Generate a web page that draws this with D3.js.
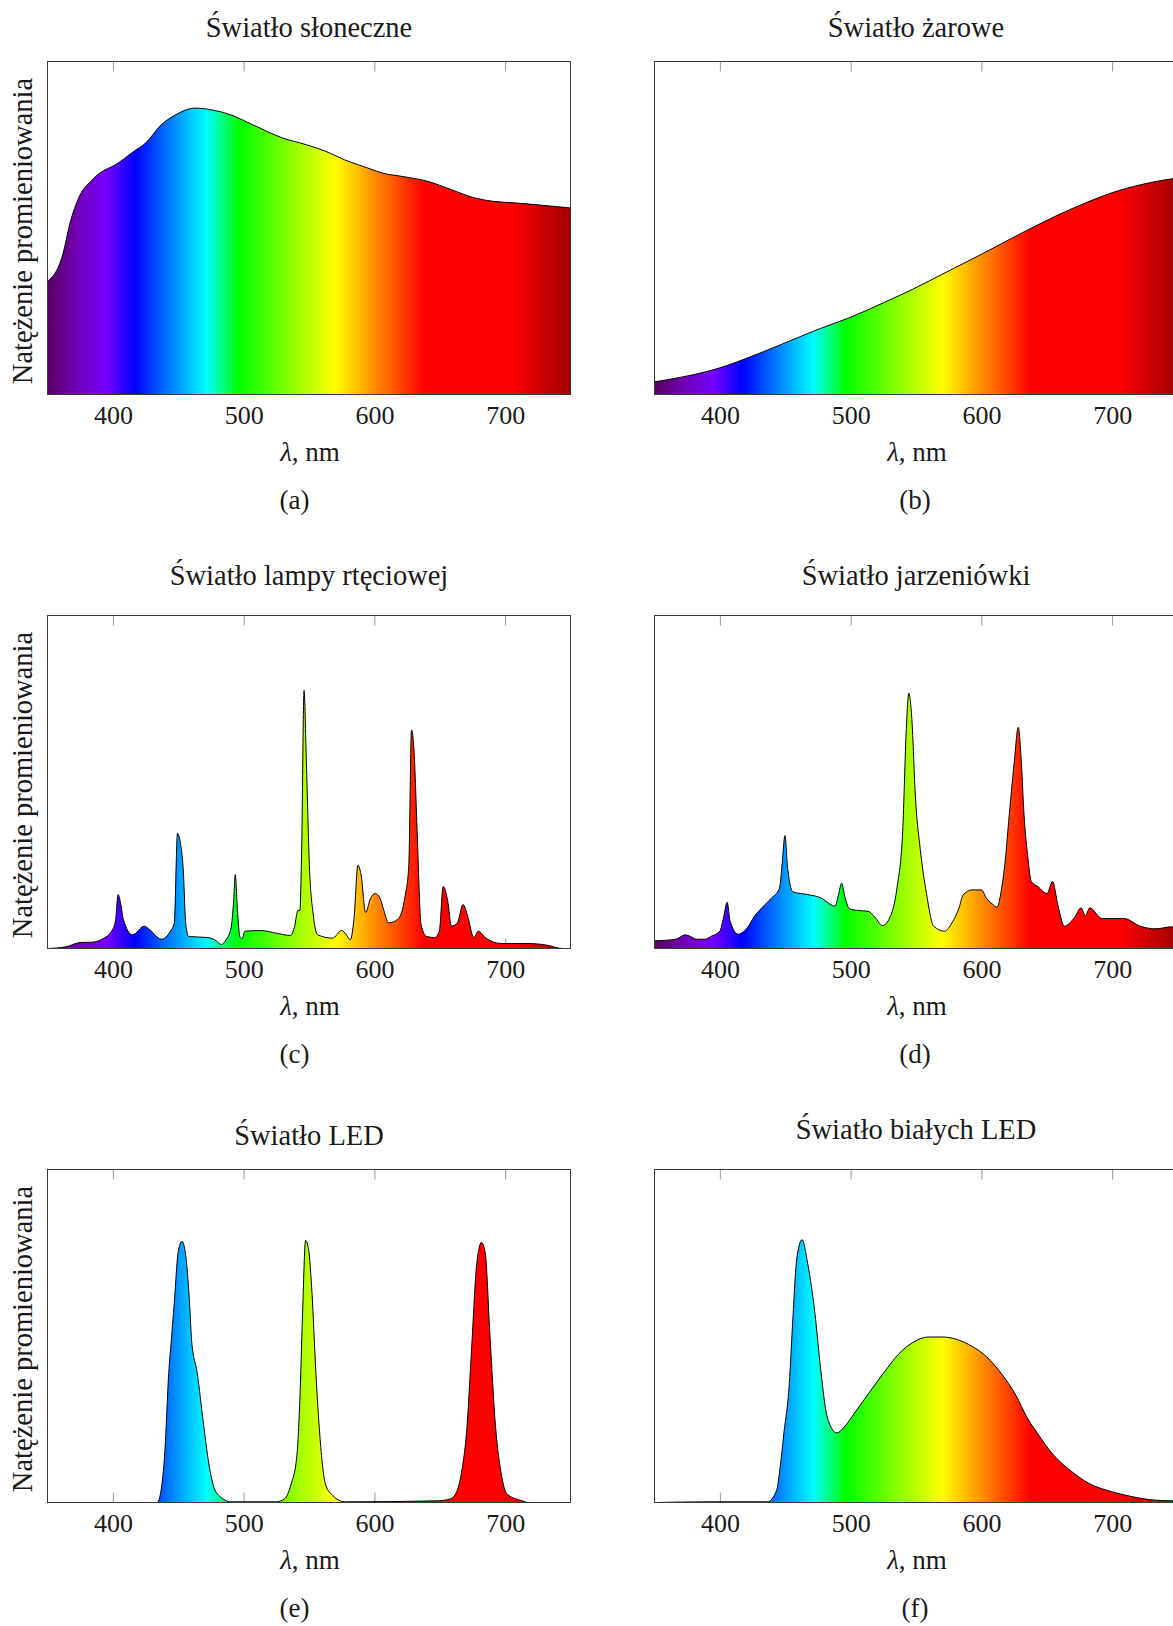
<!DOCTYPE html>
<html>
<head>
<meta charset="utf-8">
<script src="https://cdn.jsdelivr.net/npm/d3@7"></script>
<style>
  body { margin: 0; background: #fff; }
  svg { display: block; }
  text { font-family: "Liberation Serif", "DejaVu Serif", serif; fill: #1a1a1a; }
</style>
</head>
<body>
<script>
// ---------------- DATA ----------------
const xTicks = [400, 500, 600, 700];
const wavelengthDomain = [350, 750];
const titles = ["Światło słoneczne", "Światło żarowe", "Światło lampy rtęciowej",
                "Światło jarzeniówki", "Światło LED", "Światło białych LED"];
const subLabels = ["(a)", "(b)", "(c)", "(d)", "(e)", "(f)"];
const yLabel = "Natężenie promieniowania";
const xLabelSymbol = "λ";
const xLabelUnit = ", nm";

// [wavelength nm, relative intensity]
const sunlight = [[350,0.339],[361,0.411],[368,0.526],[375,0.600],[383,0.640],[390,0.665],[402,0.690],
  [416,0.730],[425,0.755],[437,0.810],[448,0.840],[463,0.860],[475,0.855],[490,0.840],[507,0.810],
  [530,0.770],[548,0.750],[563,0.730],[577,0.705],[595,0.680],[606,0.665],[621,0.655],[641,0.640],
  [659,0.615],[677,0.590],[691,0.580],[709,0.575],[729,0.568],[750,0.560]];

const incandescent = [[350,0.038],[378,0.058],[400,0.080],[420,0.108],[448,0.152],[476,0.197],
  [500,0.232],[526,0.277],[548,0.317],[573,0.367],[600,0.421],[629,0.481],[657,0.536],[680,0.576],
  [700,0.606],[722,0.630],[738,0.643],[750,0.650]];

const mercury = [[350,0],[364,0.005],[375,0.018],[384,0.019],[393,0.031],[399,0.052],[402,0.083],
  [404,0.162],[406,0.134],[408,0.088],[415,0.041],[424,0.067],[428,0.057],[437,0.028],[444,0.052],
  [447,0.077],[449.4,0.346],[451.5,0.320],[453.8,0.238],[455.8,0.072],[458,0.036],[472,0.033],
  [478,0.026],[483,0.012],[486.5,0.026],[490.4,0.062],[492.4,0.145],[493.6,0.222],[495.3,0.114],
  [497.1,0.036],[498.8,0.029],[501,0.052],[513,0.054],[525,0.046],[536,0.039],[539,0.067],
  [541.5,0.114],[543,0.114],[544.4,0.300],[546.2,0.775],[548,0.558],[550.3,0.248],[553.2,0.103],
  [556.7,0.041],[568,0.031],[575,0.054],[578.6,0.041],[581.6,0.026],[584.5,0.093],[587.4,0.250],
  [589.8,0.222],[593.3,0.108],[597,0.150],[600.6,0.165],[604.4,0.150],[607.3,0.114],[610.8,0.077],
  [618,0.088],[623.4,0.155],[626.3,0.248],[628.4,0.656],[630.4,0.589],[632.7,0.351],[635.7,0.072],
  [640,0.036],[646,0.033],[649.7,0.052],[652.6,0.186],[656,0.145],[659,0.067],[663.5,0.077],
  [667.8,0.132],[671.3,0.098],[676,0.033],[679.5,0.052],[685.4,0.031],[697,0.015],[717.5,0.015],
  [732,0.010],[744,0],[750,0]];

const fluorescent = [[350,0.023],[366.5,0.028],[373.4,0.041],[377.6,0.036],[381.8,0.028],[388.8,0.028],
  [393,0.036],[400,0.052],[402.8,0.093],[405.6,0.139],[407.8,0.083],[414,0.043],[421,0.062],
  [426.6,0.098],[432.1,0.122],[439.1,0.150],[445.6,0.181],[447.5,0.248],[449.8,0.339],[451.7,0.248],
  [455.9,0.170],[467.1,0.162],[478.3,0.150],[483.9,0.134],[488.1,0.127],[490.9,0.165],[493.1,0.196],
  [495.6,0.155],[499.2,0.119],[506.2,0.114],[513.2,0.112],[518.8,0.093],[524.4,0.069],[530,0.093],
  [535.6,0.186],[539.8,0.351],[542.6,0.661],[544.5,0.767],[546.8,0.690],[549.6,0.452],[553.2,0.300],
  [558,0.165],[563.5,0.067],[571.9,0.052],[577.5,0.077],[583.1,0.124],[585.9,0.160],[592.9,0.176],
  [600,0.176],[604.1,0.150],[608.3,0.134],[612,0.124],[615.3,0.176],[618.1,0.258],[620.9,0.382],
  [625.1,0.558],[628.2,0.664],[630.6,0.558],[632.6,0.403],[635.4,0.279],[638.2,0.201],[643.2,0.186],
  [650.2,0.165],[654.4,0.201],[658.6,0.129],[663.4,0.067],[671.2,0.093],[676.2,0.122],[679.6,0.098],
  [682.9,0.122],[692.2,0.090],[709,0.090],[721.6,0.067],[732.8,0.059],[746,0.065],[750,0.065]];

const led = [[350,0],[433.9,0],[436.8,0.035],[439.8,0.156],[442.7,0.387],[444.7,0.487],[447.1,0.608],
  [450,0.754],[452.9,0.784],[455.8,0.739],[458.8,0.588],[460.2,0.487],[464.6,0.387],[469,0.246],
  [473.4,0.116],[477.8,0.040],[483.6,0.013],[489.5,0.002],[524.6,0.002],[531,0.010],[536.3,0.055],
  [540.6,0.136],[543,0.307],[545,0.558],[547.4,0.787],[549.7,0.759],[552.3,0.628],[555.3,0.387],
  [558.2,0.206],[562.6,0.055],[568.4,0.020],[577.2,0.002],[647.4,0.005],[657.6,0.010],[662,0.025],
  [666.4,0.085],[670.8,0.226],[674.3,0.457],[678.1,0.709],[681.9,0.781],[684.8,0.749],[688.3,0.508],
  [692.7,0.226],[697.1,0.085],[701.5,0.025],[713.2,0.005],[717.5,0],[750,0]];

const whiteLed = [[350,0],[391.6,0.002],[436.3,0.002],[443.3,0.035],[446.1,0.106],[448.9,0.206],
  [453.1,0.357],[455.9,0.558],[458.7,0.729],[462.9,0.789],[467.1,0.719],[472.7,0.568],[476.9,0.407],
  [481.1,0.276],[484.4,0.231],[489.5,0.209],[495,0.226],[503.4,0.271],[514.6,0.332],[525.8,0.392],
  [537,0.447],[548.2,0.482],[559.3,0.497],[570.5,0.497],[581.7,0.489],[592.9,0.469],[604.1,0.437],
  [615.3,0.387],[626.4,0.322],[634.8,0.256],[643.2,0.206],[654.4,0.146],[668.4,0.095],[682.4,0.057],
  [699.2,0.033],[716,0.017],[732.8,0.007],[746,0.005],[750,0.004]];

const seriesList = [sunlight, incandescent, mercury, fluorescent, led, whiteLed];

// spectrum colormap (wavelength -> colour)
const spectrumStops = [[350,"#58005f"],[375,"#7300bd"],[395,"#7600ff"],[417,"#0000ff"],
  [472,"#00ffff"],[496,"#00ff00"],[570,"#ffff00"],[638,"#ff0000"],[705,"#ff0000"],[750,"#a00000"]];

// ---------------- LAYOUT ----------------
const W = 1173, H = 1626;
const PW = 523, PH = 333;
const colX = [47.5, 654.5];
const rowY = [61.5, 615.5, 1169.5];
const subX = [294.5, 915];
const FS_TICK = 26, FS_TITLE = 28.5, FS_YLAB = 28.5, FS_XLAB = 27, FS_SUB = 27;

const svg = d3.select("body").append("svg").attr("width", W).attr("height", H);
const defs = svg.append("defs");

const x = d3.scaleLinear().domain(wavelengthDomain).range([0, PW]);
const y = d3.scaleLinear().domain([0, 1]).range([PH, 0]);

const grad = defs.append("linearGradient").attr("id", "spectrum")
  .attr("gradientUnits", "userSpaceOnUse")
  .attr("x1", x(wavelengthDomain[0])).attr("x2", x(wavelengthDomain[1]))
  .attr("y1", 0).attr("y2", 0);
spectrumStops.forEach(([wl, c]) => grad.append("stop")
  .attr("offset", x(wl) / PW).attr("stop-color", c));

defs.append("clipPath").attr("id", "plotClip")
  .append("rect").attr("x", 0).attr("y", 0).attr("width", PW).attr("height", PH);

const area = d3.area().x(d => x(d[0])).y0(y(0)).y1(d => y(d[1])).curve(d3.curveMonotoneX);
const line = d3.line().x(d => x(d[0])).y(d => y(d[1])).curve(d3.curveMonotoneX);

seriesList.forEach((data, i) => {
  const col = i % 2, row = Math.floor(i / 2);
  const g = svg.append("g").attr("transform", `translate(${colX[col]},${rowY[row]})`);

  // ticks (top and bottom, inward)
  const topAxis = d3.axisTop(x).tickValues(xTicks).tickSize(-10).tickFormat("");
  const botAxis = d3.axisBottom(x).tickValues(xTicks).tickSize(-10).tickFormat("");
  [g.append("g").call(topAxis), g.append("g").attr("transform", `translate(0,${PH})`).call(botAxis)]
    .forEach(a => {
      a.select(".domain").remove();
      a.selectAll("line").attr("stroke", "#999").attr("stroke-width", 1);
    });

  const pg = g.append("g").attr("clip-path", "url(#plotClip)");
  pg.append("path").datum(data).attr("d", area).attr("fill", "url(#spectrum)");
  pg.append("path").datum(data).attr("d", line).attr("fill", "none")
    .attr("stroke", "#000").attr("stroke-width", 1);

  // frame
  g.append("rect").attr("x", 0).attr("y", 0).attr("width", PW).attr("height", PH)
    .attr("fill", "none").attr("stroke", "#3a3a3a").attr("stroke-width", 1);

  // tick labels
  const lab = d3.axisBottom(x).tickValues(xTicks).tickSize(0).tickPadding(0);
  const la = g.append("g").attr("transform", `translate(0,${PH})`).call(lab)
    .attr("font-family", null).attr("font-size", null);
  la.select(".domain").remove();
  la.selectAll("text").attr("font-size", FS_TICK).attr("dy", null).attr("y", 29)
    .attr("fill", "#1a1a1a");

  // x label
  const xl = g.append("text").attr("x", PW / 2 + 1).attr("y", PH + 66.5)
    .attr("text-anchor", "middle").attr("font-size", FS_XLAB);
  xl.append("tspan").attr("font-style", "italic").text(xLabelSymbol);
  xl.append("tspan").text(xLabelUnit);

  // title
  const hasDesc = /[pyjgqę]/.test(titles[i]);
  g.append("text").attr("x", PW / 2).attr("y", hasDesc ? -30.5 : -24.5)
    .attr("text-anchor", "middle").attr("font-size", FS_TITLE).text(titles[i]);

  // y label
  if (col === 0) {
    g.append("text").attr("transform", `translate(${32 - colX[0]},${PH / 2 + 3}) rotate(-90)`)
      .attr("text-anchor", "middle").attr("font-size", FS_YLAB).text(yLabel);
  }

  // sub label
  svg.append("text").attr("x", subX[col]).attr("y", rowY[row] + PH + 114)
    .attr("text-anchor", "middle").attr("font-size", FS_SUB).text(subLabels[i]);
});
</script>
</body>
</html>
